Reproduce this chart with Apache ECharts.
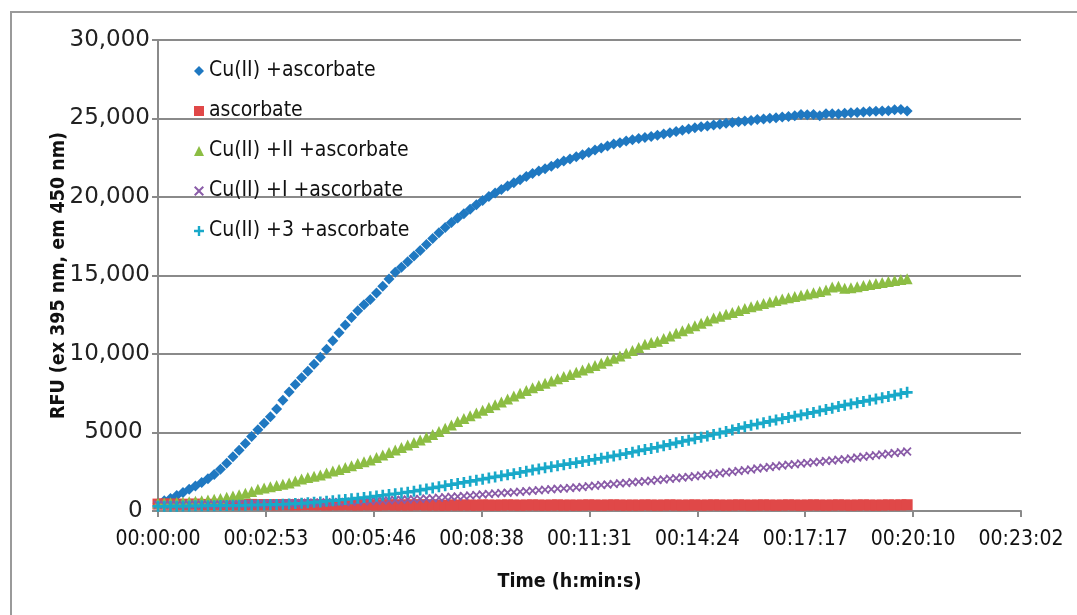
<!DOCTYPE html>
<html>
<head>
<meta charset="utf-8">
<script src="https://cdn.jsdelivr.net/npm/echarts@6/dist/echarts.min.js"></script>
<style>
  html, body { margin: 0; padding: 0; background: #fff; }
  #chart { width: 1077px; height: 615px; }
</style>
</head>
<body>
<div id="chart"></div>
<script>
// readings are taken every 10 s, from 00:00:00 to 00:20:00
const stepSeconds = 10;

const cuAscorbate = [
  500, 650, 800, 980, 1180, 1380, 1600, 1820, 2060, 2320,
  2660, 3040, 3450, 3870, 4300, 4740, 5170, 5590, 6000, 6500,
  7050, 7580, 8050, 8480, 8900, 9350, 9800, 10300, 10840, 11350,
  11850, 12330, 12760, 13130, 13470, 13880, 14320, 14780, 15200, 15520,
  15880, 16240, 16600, 16980, 17360, 17720, 18060, 18380, 18660, 18940,
  19220, 19500, 19780, 20030, 20260, 20480, 20700, 20900, 21100, 21300,
  21490, 21650, 21800, 21960, 22130, 22290, 22420, 22560, 22690, 22840,
  22990, 23120, 23250, 23370, 23460, 23560, 23650, 23720, 23790, 23850,
  23930, 24010, 24090, 24170, 24250, 24330, 24410, 24470, 24530, 24590,
  24640, 24700, 24740, 24790, 24840, 24880, 24930, 24970, 25010, 25050,
  25090, 25120, 25170, 25250, 25240, 25260, 25180, 25300, 25310, 25280,
  25330, 25360, 25390, 25420, 25440, 25460, 25480, 25500, 25550, 25580,
  25480
];

const ascorbate = [
  440, 450, 430, 440, 420, 430, 440, 420, 410, 430,
  420, 410, 420, 400, 410, 420, 400, 410, 400, 390,
  410, 400, 390, 400, 410, 390, 400, 380, 400, 390,
  400, 390, 380, 400, 390, 380, 390, 400, 380, 390,
  380, 390, 400, 380, 390, 380, 370, 390, 380, 390,
  380, 370, 390, 380, 370, 380, 390, 380, 370, 380,
  390, 380, 370, 380, 390, 370, 380, 370, 380, 390,
  380, 370, 380, 390, 380, 370, 380, 370, 390, 380,
  370, 380, 390, 380, 370, 380, 390, 370, 380, 390,
  380, 370, 380, 390, 380, 370, 380, 390, 380, 370,
  380, 390, 380, 370, 380, 390, 380, 370, 380, 390,
  380, 370, 380, 390, 380, 370, 380, 390, 380, 390,
  400
];

const cuIIAscorbate = [
  500, 510, 520, 540, 560, 590, 620, 660, 700, 750,
  800, 880, 960, 1040, 1130, 1250, 1380, 1470, 1540, 1620,
  1700, 1790, 1910, 2040, 2130, 2210, 2300, 2420, 2540, 2650,
  2770, 2890, 3020, 3130, 3250, 3400, 3570, 3730, 3880, 4040,
  4200, 4360, 4530, 4700, 4870, 5070, 5270, 5480, 5700, 5890,
  6060, 6240, 6420, 6600, 6770, 6950, 7130, 7320, 7500, 7680,
  7850, 7990, 8130, 8280, 8420, 8560, 8700, 8840, 8980, 9120,
  9260, 9410, 9570, 9730, 9880, 10040, 10220, 10420, 10620, 10740,
  10820, 10980, 11150, 11320, 11480, 11640, 11800, 11960, 12120, 12290,
  12410, 12530, 12650, 12770, 12900, 13010, 13110, 13210, 13310, 13410,
  13500, 13580, 13660, 13740, 13820, 13900, 13980, 14080, 14260, 14320,
  14180, 14220, 14290, 14370, 14420, 14490, 14560, 14620, 14680, 14740,
  14800
];

const cuIAscorbate = [
  400, 400, 400, 405, 405, 410, 410, 410, 415, 415,
  420, 425, 430, 435, 440, 445, 450, 455, 465, 470,
  480, 490, 500, 510, 520, 530, 540, 550, 560, 570,
  580, 595, 610, 625, 640, 655, 670, 685, 700, 715,
  730, 750, 770, 790, 810, 840, 870, 900, 930, 960,
  990, 1020, 1050, 1080, 1110, 1140, 1170, 1200, 1230, 1260,
  1290, 1320, 1350, 1380, 1410, 1440, 1470, 1500, 1530, 1570,
  1610, 1650, 1680, 1720, 1760, 1790, 1830, 1860, 1890, 1930,
  1970, 2010, 2050, 2090, 2130, 2170, 2220, 2260, 2310, 2350,
  2400, 2450, 2500, 2550, 2600, 2650, 2700, 2750, 2800, 2850,
  2900, 2940, 2980, 3020, 3060, 3100, 3140, 3180, 3220, 3260,
  3300, 3350, 3400, 3450, 3500, 3550, 3600, 3650, 3700, 3740,
  3790
];

const cu3Ascorbate = [
  300, 300, 310, 310, 320, 320, 330, 330, 340, 340,
  350, 350, 360, 360, 370, 380, 390, 400, 410, 420,
  430, 450, 470, 490, 520, 550, 580, 620, 660, 700,
  740, 780, 820, 860, 900, 950, 1000, 1050, 1100, 1150,
  1200, 1260, 1330, 1400, 1470, 1540, 1610, 1680, 1750, 1820,
  1890, 1960, 2030, 2100, 2170, 2240, 2310, 2380, 2450, 2530,
  2610, 2680, 2750, 2820, 2880, 2950, 3020, 3080, 3150, 3220,
  3290, 3360, 3430, 3510, 3580, 3660, 3740, 3830, 3910, 3980,
  4060, 4150, 4240, 4340, 4430, 4510, 4600, 4690, 4780, 4870,
  4960, 5060, 5160, 5260, 5360, 5460, 5540, 5620, 5710, 5800,
  5880, 5960, 6040, 6120, 6200, 6280, 6370, 6460, 6550, 6650,
  6740, 6820, 6900, 6980, 7060, 7140, 7210, 7290, 7380, 7470,
  7560
];

const seriesNames = ['Cu(II) +ascorbate', 'ascorbate', 'Cu(II) +II +ascorbate', 'Cu(II) +I +ascorbate', 'Cu(II) +3 +ascorbate'];
const yTicks = [0, 5000, 10000, 15000, 20000, 25000, 30000];

const colors = ['#1f78c1', '#e04848', '#8cbd43', '#8a5ca8', '#19a9c9'];
const crossPath = 'path://M0,1.4 L1.4,0 L5,3.6 L8.6,0 L10,1.4 L6.4,5 L10,8.6 L8.6,10 L5,6.4 L1.4,10 L0,8.6 L3.6,5 Z';
const plusPath = 'path://M3.8,0 H6.2 V3.8 H10 V6.2 H6.2 V10 H3.8 V6.2 H0 V3.8 H3.8 Z';

function pairs(values) {
  return values.map((v, i) => [i * stepSeconds, v]);
}

function hms(sec) {
  const s = Math.round(sec);
  const h = Math.floor(s / 3600);
  const m = Math.floor((s % 3600) / 60);
  const r = s % 60;
  const p = n => (n < 10 ? '0' : '') + n;
  return p(h) + ':' + p(m) + ':' + p(r);
}

const chart = echarts.init(document.getElementById('chart'));

const option = {
  animation: false,
  backgroundColor: '#fff',
  graphic: [{
    type: 'rect',
    shape: { x: 11, y: 12, width: 1100, height: 700 },
    style: { fill: 'none', stroke: '#9a9a9a', lineWidth: 2 },
    silent: true
  }],
  grid: { left: 158, top: 40, right: 56, bottom: 104 },
  legend: {
    orient: 'vertical',
    left: 189,
    top: 55,
    itemWidth: 10,
    itemHeight: 10,
    itemGap: 18,
    data: seriesNames,
    textStyle: { fontFamily: 'DejaVu Sans Condensed', fontSize: 21, color: '#111', lineHeight: 22 }
  },
  xAxis: {
    type: 'value',
    min: 0,
    max: 1382.4,
    interval: 172.8,
    name: 'Time (h:min:s)',
    nameLocation: 'middle',
    nameGap: 61,
    nameTextStyle: {
      fontFamily: 'DejaVu Sans Condensed', fontWeight: 'bold', fontSize: 19.5, color: '#111',
      padding: [0, 40, 0, 0]
    },
    axisLine: { show: true, lineStyle: { color: '#8a8a8a', width: 2 } },
    axisTick: { show: true, length: 6, lineStyle: { color: '#8a8a8a', width: 2 } },
    splitLine: { show: false },
    axisLabel: {
      margin: 18,
      fontFamily: 'DejaVu Sans Condensed',
      fontSize: 21,
      color: '#111',
      formatter: v => hms(v)
    }
  },
  yAxis: {
    type: 'value',
    min: yTicks[0],
    max: yTicks[yTicks.length - 1],
    interval: 5000,
    name: 'RFU (ex 395 nm, em 450 nm)',
    nameLocation: 'middle',
    nameGap: 89,
    nameMoveOverlap: false,
    nameTextStyle: { fontFamily: 'DejaVu Sans Condensed', fontWeight: 'bold', fontSize: 19.5, color: '#111' },
    axisLine: { show: true, lineStyle: { color: '#8a8a8a', width: 2 } },
    axisTick: { show: true, length: 6, lineStyle: { color: '#8a8a8a', width: 2 } },
    splitLine: { show: true, lineStyle: { color: '#8a8a8a', width: 2 } },
    axisLabel: {
      margin: 8,
      fontFamily: 'DejaVu Sans',
      fontSize: 23,
      color: '#222',
      // values below 10,000 carry no thousands separator and sit a little further left
      formatter: v => (v >= 10000 ? v.toLocaleString('en-US') : String(v) + ' ')
    }
  },
  series: [
    { name: seriesNames[0], type: 'scatter', symbol: 'diamond', symbolSize: 11, itemStyle: { color: colors[0], opacity: 1 }, data: pairs(cuAscorbate) },
    { name: seriesNames[1], type: 'scatter', symbol: 'rect', symbolSize: 11, itemStyle: { color: colors[1], opacity: 1 }, data: pairs(ascorbate) },
    { name: seriesNames[2], type: 'scatter', symbol: 'triangle', symbolSize: 11, itemStyle: { color: colors[2], opacity: 1 }, data: pairs(cuIIAscorbate) },
    { name: seriesNames[3], type: 'scatter', symbol: crossPath, symbolSize: 9, itemStyle: { color: colors[3], opacity: 1 }, data: pairs(cuIAscorbate) },
    { name: seriesNames[4], type: 'scatter', symbol: plusPath, symbolSize: 11, itemStyle: { color: colors[4], opacity: 1 }, data: pairs(cu3Ascorbate) }
  ]
};

chart.setOption(option);
</script>
</body>
</html>
